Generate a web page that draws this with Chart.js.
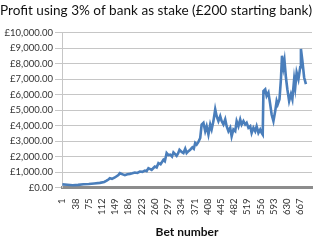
<!DOCTYPE html>
<html>
<head>
<meta charset="utf-8">
<script src="https://cdn.jsdelivr.net/npm/chart.js@4.4.0/dist/chart.umd.min.js"></script>
<style>
  html, body { margin: 0; padding: 0; background: #ffffff; }
  #wrap { width: 320px; height: 242px; position: relative; }
</style>
</head>
<body>
<div id="wrap"><canvas id="c" width="320" height="242"></canvas></div>
<script>
const chartTitle = 'Profit using 3% of bank as stake (£200 starting bank)';
const xAxisTitle = 'Bet number';

const betNumbers = [
  1, 15, 30, 45, 60, 75, 90, 106, 118, 125, 130, 134, 140, 148, 158, 162, 170, 176, 183, 190,
  197, 204, 211, 218, 225, 232, 237, 242, 251, 256, 260, 265, 270, 276, 284, 288, 293, 298, 303, 308,
  312, 317, 321, 325, 329, 335, 340, 345, 349, 354, 359, 365, 369, 373, 377, 382, 387, 391, 396, 401,
  405, 410, 415, 419, 424, 429, 433, 438, 443, 447, 452, 457, 461, 466, 471, 475, 480, 485, 489, 494,
  499, 503, 508, 513, 517, 522, 527, 531, 536, 541, 545, 550, 555, 559, 562, 564, 569, 573, 578, 583,
  587, 592, 597, 601, 604, 609, 613, 616, 620, 623, 627, 631, 636, 641, 645, 650, 653, 657, 662, 667,
  669, 673, 678, 683
];

const bankValues = [
  200, 180, 150, 170, 210, 230, 260, 300, 360, 440, 520, 600, 560, 650, 810, 925, 850, 795, 860, 880,
  920, 965, 940, 1030, 1010, 1095, 1060, 1250, 1140, 1260, 1355, 1300, 1575, 1500, 1790, 1700, 2230, 2100, 2120, 2000,
  2270, 2150, 2050, 2200, 2440, 2300, 2230, 2510, 2230, 2350, 2440, 2590, 2500, 2880, 2770, 2950, 3200, 4070, 4180, 3640,
  3960, 3420, 4070, 3750, 4290, 5050, 4610, 4290, 4610, 4290, 4070, 4400, 3960, 3640, 3860, 3310, 3750, 3640, 4290, 3960,
  4400, 4070, 4290, 4070, 4180, 3860, 3960, 3530, 3860, 3640, 3960, 3530, 3750, 3530, 3420, 6240, 6350, 5920, 6140, 5370,
  4720, 4290, 4940, 5590, 5370, 5700, 7000, 8520, 7770, 8200, 7110, 6350, 5590, 6030, 5700, 7000, 6460, 7440, 7000, 7770,
  8960, 8200, 7110, 6680
];

const xTickLabels = [1, 38, 75, 112, 149, 186, 223, 260, 297, 334, 371, 408, 445, 482, 519, 556, 593, 630, 667];
const yTickValues = [0, 1000, 2000, 3000, 4000, 5000, 6000, 7000, 8000, 9000, 10000];

function money(v) {
  return '£' + Number(v).toLocaleString('en-GB', { minimumFractionDigits: 2, maximumFractionDigits: 2 });
}

const points = betNumbers.map((b, i) => ({ x: b, y: bankValues[i] }));

new Chart(document.getElementById('c'), {
  type: 'line',
  data: {
    datasets: [{
      data: points,
      borderColor: '#4a7ebb',
      borderWidth: 2.6,
      pointRadius: 0,
      tension: 0,
      fill: false
    }]
  },
  options: {
    responsive: false,
    animation: false,
    devicePixelRatio: 1,
    layout: { padding: { left: 0, right: 8, top: 0, bottom: 0 } },
    plugins: {
      legend: { display: false },
      tooltip: { enabled: false },
      title: {
        display: true,
        text: chartTitle,
        color: '#111111',
        font: { family: 'Lato', size: 14, weight: 'normal' },
        padding: { top: 2, bottom: 14 }
      }
    },
    scales: {
      x: {
        type: 'linear',
        min: 0,
        max: 700,
        afterBuildTicks: (axis) => { axis.ticks = xTickLabels.map(v => ({ value: v })); },
        afterFit: (scale) => { scale.height = 54.5; },
        grid: { display: false },
        border: { display: true, color: '#8c8c8c', width: 3 },
        ticks: {
          autoSkip: false,
          minRotation: 90,
          maxRotation: 90,
          padding: 3,
          color: '#333333',
          font: { family: 'Lato', size: 9.5 },
          callback: (v) => String(v)
        },
        title: {
          display: true,
          text: xAxisTitle,
          color: '#111111',
          font: { family: 'Lato', size: 12, weight: 'bold' },
          padding: { top: 0, bottom: 3 }
        }
      },
      y: {
        min: 0,
        max: 10000,
        afterBuildTicks: (axis) => { axis.ticks = yTickValues.map(v => ({ value: v })); },
        afterFit: (scale) => { scale.width = 62; },
        grid: { color: '#c6c6c6', lineWidth: 1, tickLength: 7, tickColor: '#c6c6c6' },
        border: { display: true, color: '#c6c6c6', width: 1 },
        ticks: {
          padding: 2,
          color: '#333333',
          font: { family: 'Lato', size: 9.5 },
          callback: (v) => money(v)
        }
      }
    }
  }
});
</script>
</body>
</html>
